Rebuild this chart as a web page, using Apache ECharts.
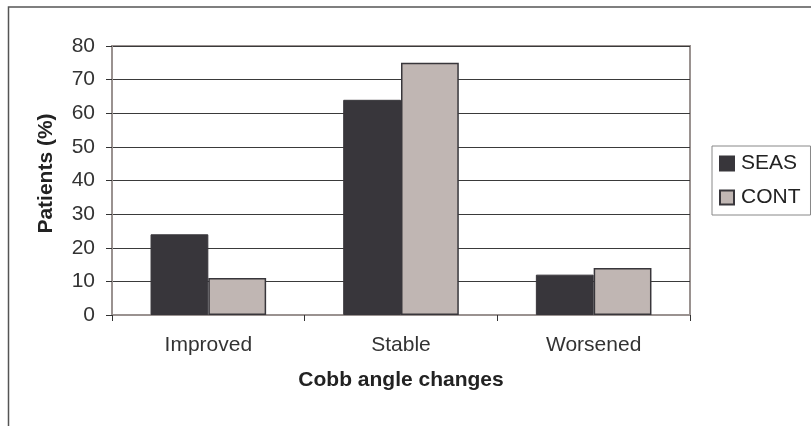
<!DOCTYPE html>
<html>
<head>
<meta charset="utf-8">
<script src="https://cdn.jsdelivr.net/npm/echarts@6/dist/echarts.min.js"></script>
<style>html,body{margin:0;padding:0;background:#fff}#c{width:811px;height:426px}</style>
</head>
<body>
<div id="c"></div>
<script>
const categories = ['Improved', 'Stable', 'Worsened'];
const seasValues = [24, 64, 12];
const contValues = [11, 75, 14];
const yTicks = [0, 10, 20, 30, 40, 50, 60, 70, 80];

const FONT = '"Liberation Sans", Arial, sans-serif';
const chart = echarts.init(document.getElementById('c'), null, {renderer: 'canvas'});
chart.setOption({
  backgroundColor: '#fff',
  animation: false,
  graphic: [{
    type: 'rect', shape: {x: 8.5, y: 7, width: 900, height: 500},
    style: {fill: 'none', stroke: '#555', lineWidth: 1.5}, z: -10, silent: true
  }],
  grid: {left: 112, right: 121, top: 46, bottom: 111, show: true, borderColor: '#9a9290', borderWidth: 2},
  legend: {
    orient: 'vertical', left: 712, top: 146,
    padding: [7, 10, 7, 7], itemGap: 13, itemWidth: 14, itemHeight: 14,
    borderColor: '#888', borderWidth: 1,
    icon: 'rect',
    textStyle: {fontFamily: FONT, fontSize: 21, color: '#222', padding: [0, 0, 0, 2]},
    data: ['SEAS', 'CONT']
  },
  xAxis: {
    type: 'category', data: categories,
    name: 'Cobb angle changes', nameLocation: 'middle', nameGap: 55,
    nameTextStyle: {fontFamily: FONT, fontSize: 21, fontWeight: 'bold', color: '#222'},
    axisLine: {show: true, lineStyle: {color: '#9a9290', width: 2}},
    axisTick: {show: true, length: 6, lineStyle: {color: '#333'}},
    axisLabel: {fontFamily: FONT, fontSize: 21, color: '#333', margin: 20},
    splitLine: {show: false}
  },
  yAxis: {
    type: 'value', min: 0, max: 80, interval: 10,
    name: 'Patients (%)', nameLocation: 'middle', nameGap: 55, nameRotate: 90,
    nameTextStyle: {fontFamily: FONT, fontSize: 21, fontWeight: 'bold', color: '#222', padding: [0, 0, 0, 14]},
    axisLine: {show: true, lineStyle: {color: '#9a9290', width: 2}},
    axisTick: {show: true, length: 6, lineStyle: {color: '#333'}},
    axisLabel: {fontFamily: FONT, fontSize: 21, color: '#333', margin: 17,
      formatter: v => yTicks.includes(v) ? String(v) : ''},
    splitLine: {show: true, lineStyle: {color: '#3a3a3a', width: 1}}
  },
  series: [
    {name: 'SEAS', type: 'bar', data: seasValues, barGap: '0%', barCategoryGap: '40%',
      itemStyle: {color: '#38363b', borderColor: '#38363b', borderWidth: 1}},
    {name: 'CONT', type: 'bar', data: contValues,
      itemStyle: {color: '#c0b6b3', borderColor: '#38363b', borderWidth: 1.5}}
  ]
});
</script>
</body>
</html>
